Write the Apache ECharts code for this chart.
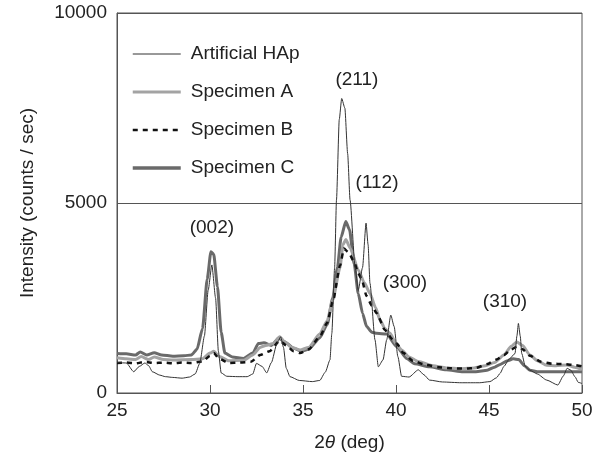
<!DOCTYPE html>
<html>
<head>
  <meta charset="UTF-8">
  <script src="https://cdn.jsdelivr.net/npm/echarts@6/dist/echarts.min.js"></script>
</head>
<body style="margin:0">
  <div id="mychart" style="width:597px;height:461px;"></div>
  <script type="text/javascript">
    // 2θ positions and intensities
    var hapX = [25.0, 25.5, 25.9, 26.2, 26.5, 26.7, 26.9, 27.3, 27.6, 28.0, 28.5, 28.9, 29.2, 29.45, 29.7, 29.9, 30.1, 30.3, 30.45, 30.6, 30.9, 31.5, 32.0, 32.3, 32.5, 32.8, 33.05, 33.3, 33.6, 33.8, 33.95, 34.1, 34.3, 34.8, 35.5, 35.9, 36.2, 36.45, 36.55, 36.7, 36.8, 36.95, 37.08, 37.25, 37.4, 37.53, 37.8, 37.97, 38.2, 38.39, 38.5, 38.6, 38.87, 39.05, 39.3, 39.5, 39.72, 39.9, 40.1, 40.3, 40.7, 41.2, 41.5, 41.8, 42.5, 43.5, 44.5, 45.05, 45.4, 45.6, 45.8, 46.1, 46.4, 46.5, 46.58, 46.68, 46.76, 46.95, 47.2, 47.6, 48.1, 48.7, 49.0, 49.2, 49.4, 49.62, 49.8, 50.0];
    var hapY = [800, 790, 560, 700, 790, 720, 560, 470, 430, 410, 390, 420, 500, 780, 1500, 2700, 3370, 2500, 1100, 530, 440, 430, 430, 500, 780, 700, 530, 800, 1300, 1480, 1200, 650, 430, 330, 300, 330, 550, 870, 1570, 3300, 5080, 7200, 7750, 7500, 6300, 5080, 3320, 2700, 3300, 4470, 3900, 2890, 1400, 690, 870, 1400, 2050, 1750, 960, 440, 420, 610, 480, 340, 290, 270, 270, 300, 400, 520, 700, 900, 1040, 1500, 1830, 1500, 1040, 700, 600, 500, 340, 210, 450, 650, 600, 430, 280, 250];

    var aX = [25.0, 25.5, 26.0, 26.3, 26.7, 27.0, 27.5, 28.0, 29.0, 29.6, 30.0, 30.2, 30.5, 31.0, 31.8, 32.3, 32.7, 33.0, 33.4, 33.75, 34.0, 34.4, 34.84, 35.3, 35.9, 36.3, 36.6, 36.99, 37.15, 37.3, 37.55, 37.97, 38.3, 38.6, 38.9, 39.14, 39.4, 39.68, 40.0, 40.3, 40.7, 41.2, 42.0, 42.7, 43.5, 44.2, 44.8, 45.3, 45.8, 46.2, 46.5, 46.8, 47.2, 47.6, 48.1, 48.6, 49.2, 49.6, 50.0];
    var aY = [930, 900, 880, 960, 880, 950, 880, 870, 880, 900, 1050, 1100, 960, 850, 860, 1000, 1200, 1250, 1300, 1480, 1350, 1200, 1130, 1200, 1550, 1900, 2450, 3300, 3900, 4040, 3800, 3240, 2900, 2620, 2250, 1920, 1700, 1570, 1300, 1130, 950, 830, 720, 660, 640, 660, 720, 800, 1000, 1230, 1340, 1250, 1000, 850, 730, 720, 740, 680, 620];

    var bX = [25.0, 25.5, 26.0, 26.5, 27.0, 27.5, 28.0, 28.5, 29.0, 29.6, 30.0, 30.2, 30.5, 31.0, 31.6, 32.2, 32.7, 33.2, 33.75, 34.1, 34.5, 34.84, 35.3, 35.9, 36.3, 36.6, 36.99, 37.2, 37.45, 37.75, 37.97, 38.15, 38.42, 38.7, 38.96, 39.4, 39.8, 40.04, 40.4, 40.9, 41.6, 42.3, 43.0, 43.7, 44.3, 44.9, 45.4, 45.8, 46.2, 46.5, 46.8, 47.2, 47.8, 48.4, 49.0, 49.5, 50.0];
    var bY = [790, 800, 780, 820, 790, 800, 780, 800, 790, 830, 980, 1050, 900, 790, 800, 820, 1000, 1100, 1380, 1250, 1100, 1050, 1150, 1480, 1850, 2400, 3350, 3800, 3700, 3450, 3150, 3000, 2550, 2300, 2100, 1660, 1420, 1300, 1050, 850, 740, 680, 650, 640, 660, 760, 880, 1000, 1150, 1220, 1150, 980, 820, 770, 760, 740, 700];

    var cX = [25.0, 25.5, 26.0, 26.25, 26.6, 27.0, 27.4, 28.0, 28.6, 29.0, 29.3, 29.6, 29.85, 30.05, 30.2, 30.4, 30.6, 30.8, 31.2, 31.8, 32.3, 32.6, 32.9, 33.3, 33.7, 34.0, 34.5, 34.9, 35.3, 35.9, 36.3, 36.6, 36.85, 37.05, 37.3, 37.5, 37.75, 37.97, 38.2, 38.42, 38.7, 38.96, 39.5, 40.04, 40.57, 41.0, 41.8, 42.7, 43.6, 44.3, 44.9, 45.3, 45.6, 46.0, 46.3, 46.6, 46.9, 47.2, 47.6, 48.5, 49.5, 50.0];
    var cY = [1040, 1030, 1000, 1080, 1000, 1060, 1000, 970, 980, 1000, 1150, 1700, 3000, 3720, 3650, 2800, 1600, 1050, 950, 910, 1050, 1300, 1320, 1250, 1450, 1350, 1180, 1100, 1150, 1450, 1800, 2500, 3300, 4100, 4510, 4300, 3400, 2620, 2100, 1750, 1600, 1570, 1550, 1220, 910, 770, 690, 610, 560, 560, 600, 680, 750, 850, 900, 880, 720, 600, 560, 560, 560, 560];

    // peak labels
    var peakNames = ['(002)', '(211)', '(112)', '(300)', '(310)'];
    var peakX = [30.1, 37.9, 38.98, 40.48, 45.86];
    var peakY = [4340, 8240, 5530, 2900, 2400];

    function zip(xs, ys) {
        return xs.map(function (x, i) { return [x, ys[i]]; });
    }
    var peaks = peakNames.map(function (n, i) { return { name: n, value: [peakX[i], peakY[i]] }; });

    var font = 'Liberation Sans, Arial, sans-serif';
    var ink = '#222';
    var myChart = echarts.init(document.getElementById('mychart'));

    function curve(name, data, color, width, type) {
        return {
            name: name, type: 'line', data: data,
            showSymbol: false, symbol: 'none', smooth: 0.2, smoothMonotone: 'x',
            lineStyle: { color: color, width: width, type: type || 'solid' },
            itemStyle: { color: color, opacity: 0 }
        };
    }

    myChart.setOption({
        animation: false,
        backgroundColor: '#fff',
        textStyle: { fontFamily: font },
        grid: {
            left: 117, right: 15, top: 13, bottom: 68,
            show: true, borderColor: '#555', borderWidth: 1
        },
        legend: {
            orient: 'vertical',
            left: 126, top: 39,
            itemWidth: 48, itemHeight: 14, itemGap: 18,
            itemStyle: { opacity: 0 },
            data: [
                { name: 'Artificial HAp', lineStyle: { width: 1 } },
                { name: 'Specimen A', lineStyle: { width: 3 } },
                { name: 'Specimen B', lineStyle: { width: 2.5 } },
                { name: 'Specimen C', lineStyle: { width: 3.5 } }
            ],
            textStyle: { fontSize: 19, color: ink, lineHeight: 20, padding: [0, 0, 0, 5] }
        },
        xAxis: {
            type: 'value', min: 25, max: 50, interval: 5,
            name: '2{i|θ} (deg)', nameLocation: 'middle', nameGap: 40,
            nameTextStyle: { fontSize: 19, color: ink, rich: { i: { fontSize: 19, fontStyle: 'italic', color: ink } } },
            axisLine: { lineStyle: { color: '#555' } },
            axisTick: { inside: true, length: 8, lineStyle: { color: '#555' } },
            axisLabel: { fontSize: 19, color: ink, margin: 8 },
            splitLine: { show: false }
        },
        yAxis: {
            type: 'value', min: 0, max: 10000, interval: 5000,
            name: 'Intensity (counts / sec)', nameLocation: 'middle', nameGap: 80,
            nameTextStyle: { fontSize: 19, color: ink },
            axisLine: { show: true, lineStyle: { color: '#555' } },
            axisTick: { show: false },
            axisLabel: { fontSize: 19, color: ink, margin: 10, formatter: function (v) { return String(v); } },
            splitLine: { show: true, lineStyle: { color: '#555', width: 1 } }
        },
        series: [
            curve('Specimen C', zip(cX, cY), '#6a6a6a', 3),
            curve('Specimen A', zip(aX, aY), '#a3a3a3', 3),
            curve('Specimen B', zip(bX, bY), '#111', 2.5, [5, 5]),
            curve('Artificial HAp', zip(hapX, hapY), '#333', 1),
            {
                name: 'peaks', type: 'scatter', data: peaks, symbolSize: 0, silent: true,
                itemStyle: { opacity: 1 },
                label: {
                    show: true, position: 'inside', fontSize: 19, color: ink, opacity: 1,
                    formatter: function (p) { return p.name; }
                }
            }
        ]
    });
  </script>
</body>
</html>
